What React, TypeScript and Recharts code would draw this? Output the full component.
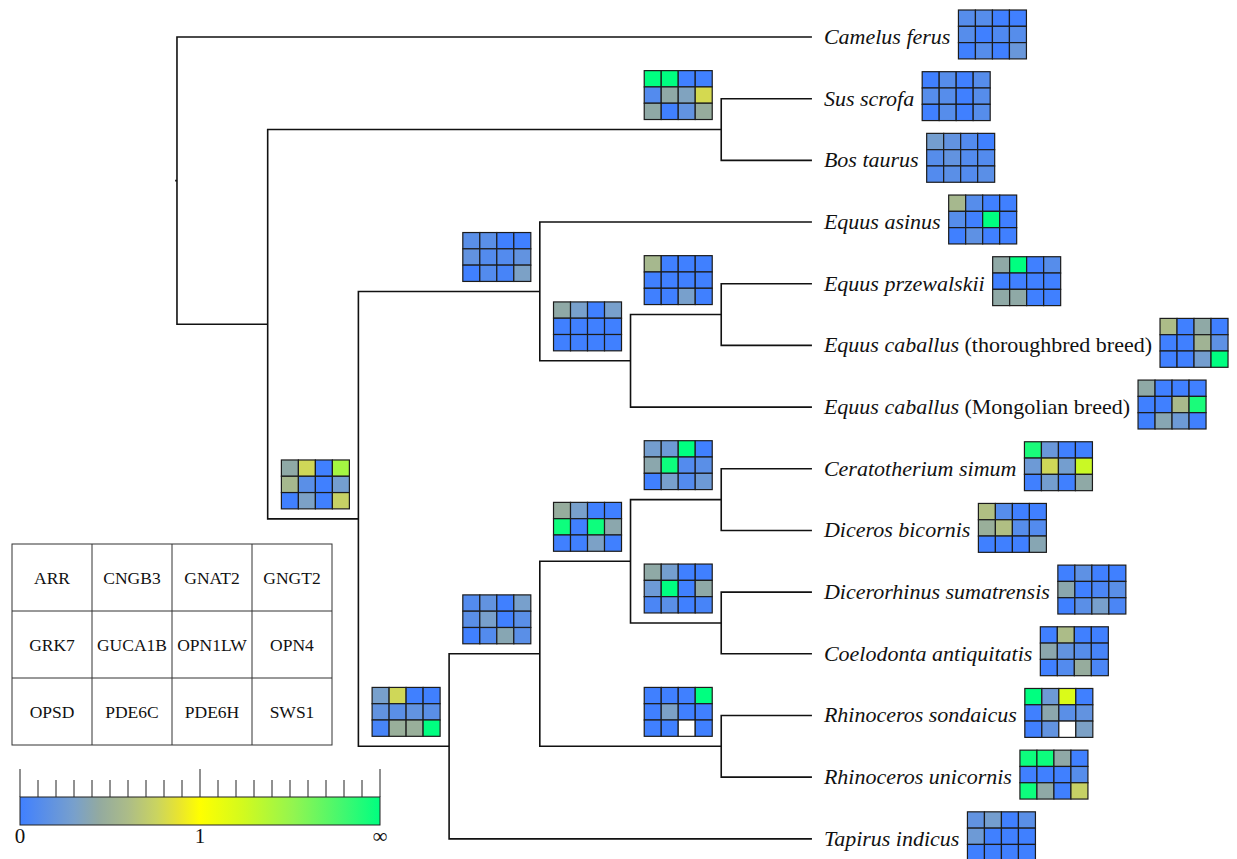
import React from 'react';
import { ScatterChart, Scatter, XAxis, YAxis, Customized } from 'recharts';

// gene order inside every 4x3 box (row by row)
const genes = ['ARR', 'CNGB3', 'GNAT2', 'GNGT2', 'GRK7', 'GUCA1B', 'OPN1LW', 'OPN4', 'OPSD', 'PDE6C', 'PDE6H', 'SWS1'];

const tipNames = [
  'Camelus ferus', 'Sus scrofa', 'Bos taurus', 'Equus asinus', 'Equus przewalskii',
  'Equus caballus', 'Equus caballus', 'Ceratotherium simum', 'Diceros bicornis',
  'Dicerorhinus sumatrensis', 'Coelodonta antiquitatis', 'Rhinoceros sondaicus',
  'Rhinoceros unicornis', 'Tapirus indicus',
];
const tipNotes = ['', '', '', '', '', '(thoroughbred breed)', '(Mongolian breed)', '', '', '', '', '', '', ''];

// omega on the colour scale: 0 -> 0, 0.5 -> 1, 1 -> infinity; null = no value
const tipOmega: (number | null)[][] = [
  [0.06, 0.06, 0, 0, 0.06, 0, 0.04, 0.06, 0, 0.06, 0, 0.11],
  [0, 0.06, 0, 0.06, 0.06, 0.06, 0, 0.06, 0, 0.06, 0, 0.06],
  [0.14, 0.09, 0.05, 0, 0.06, 0.09, 0.05, 0.05, 0.05, 0.07, 0.05, 0.07],
  [0.28, 0.06, 0, 0, 0.06, 0, 1, 0, 0, 0.08, 0, 0],
  [0.21, 1, 0, 0.06, 0, 0, 0, 0, 0.21, 0.21, 0, 0],
  [0.3, 0, 0.21, 0, 0, 0, 0.26, 0.08, 0, 0, 0.14, 1],
  [0.21, 0, 0, 0, 0, 0, 0.29, 0.96, 0, 0.19, 0.12, 0],
  [0.96, 0.11, 0, 0, 0.12, 0.39, 0.14, 0.64, 0, 0.14, 0, 0.21],
  [0.31, 0.06, 0, 0, 0.24, 0.31, 0.06, 0.05, 0, 0, 0, 0.19],
  [0, 0.08, 0, 0, 0.2, 0, 0.03, 0.07, 0, 0.07, 0.15, 0.03],
  [0, 0.3, 0, 0, 0.2, 0.09, 0.06, 0.02, 0, 0.05, 0.23, 0.03],
  [1, 0.12, 0.6, 0, 0, 0.2, 0.07, 0.09, 0, 0.09, null, 0.16],
  [0.98, 0.98, 0.21, 0, 0, 0, 0, 0.06, 0.98, 0.21, 0, 0.37],
  [0.09, 0.14, 0, 0.07, 0.12, 0, 0, 0, 0, 0, 0, 0],
];

// internal nodes: children are tip indexes or other node ids
const cladeIds = ['root', 'cetPeri', 'suBos', 'peri', 'equus', 'eqSub', 'prTh', 'rhTap', 'rhino', 'rh4', 'ceDi', 'dcCo', 'rhinoceros'];
const cladeKids: (number | string)[][] = [
  [0, 'cetPeri'], ['suBos', 'peri'], [1, 2], ['equus', 'rhTap'], [3, 'eqSub'], ['prTh', 6], [4, 5],
  ['rhino', 13], ['rh4', 'rhinoceros'], ['ceDi', 'dcCo'], [7, 8], [9, 10], [11, 12],
];
const cladeOmega: ((number | null)[] | null)[] = [
  null,
  null,
  [1, 1, 0, 0, 0.05, 0.21, 0.17, 0.4, 0.21, 0, 0.09, 0.23],
  [0.21, 0.39, 0, 0.72, 0.28, 0.07, 0, 0.14, 0, 0.16, 0, 0.37],
  [0.07, 0.07, 0, 0, 0.09, 0.05, 0.05, 0.09, 0, 0.05, 0.02, 0.16],
  [0.21, 0.15, 0, 0.15, 0, 0, 0, 0, 0, 0, 0, 0],
  [0.28, 0, 0, 0, 0, 0, 0, 0, 0, 0, 0.15, 0],
  [0.15, 0.39, 0, 0, 0.09, 0.07, 0.09, 0.07, 0.02, 0.24, 0.24, 1],
  [0.05, 0.09, 0, 0.15, 0.07, 0.15, 0, 0.07, 0, 0.05, 0.19, 0.07],
  [0.23, 0.15, 0, 0, 0.98, 0, 0.98, 0.2, 0, 0, 0.16, 0],
  [0.14, 0.12, 1, 0, 0.2, 0.98, 0.05, 0.07, 0, 0.15, 0.05, 0.12],
  [0.21, 0.14, 0, 0, 0.12, 1, 0, 0.21, 0.03, 0.07, 0, 0.02],
  [0, 0, 0, 1, 0, 0.16, 0, 0, 0, 0, null, 0],
];

const scaleStops = [0, 0.15, 0.22, 0.3, 0.38, 0.44, 0.5, 0.62, 0.76, 0.9, 1];
const scaleColors = ['#4080ff', '#78a0cc', '#93aaa0', '#acbc88', '#cad460', '#e8e430', '#ffff00', '#d2fa1e', '#92f550', '#40f870', '#00ff80'];
const scaleLabels = ['0', '1', '\u221e'];
const scaleTickCount = 21;

const SERIF = '"Liberation Serif", "Times New Roman", serif';
const CELL_W = 17;
const CELL_H = 16.3;

function hexToRgb(h: string) {
  const n = parseInt(h.slice(1), 16);
  return [(n >> 16) & 255, (n >> 8) & 255, n & 255];
}

function omegaColor(t: number) {
  for (let i = 1; i < scaleStops.length; i++) {
    if (t <= scaleStops[i]) {
      const f = (t - scaleStops[i - 1]) / (scaleStops[i] - scaleStops[i - 1]);
      const a = hexToRgb(scaleColors[i - 1]);
      const b = hexToRgb(scaleColors[i]);
      const c = a.map((v, k) => Math.round(v + (b[k] - v) * f));
      return `rgb(${c[0]},${c[1]},${c[2]})`;
    }
  }
  return scaleColors[scaleColors.length - 1];
}

let ctx: CanvasRenderingContext2D | null = null;
function textWidth(s: string, font: string) {
  if (!ctx) ctx = document.createElement('canvas').getContext('2d');
  if (!ctx) return s.length * 10;
  ctx.font = font;
  return ctx.measureText(s).width;
}

// layout: y = mean of children, x = (tree height - node height)
type Pos = { x: number; y: number; h: number };
const nodePos: Record<string, Pos> = {};
function place(k: number | string): Pos {
  if (typeof k === 'number') return { x: 0, y: k, h: 0 };
  const kids = cladeKids[cladeIds.indexOf(k)].map(place);
  const p = { x: 0, y: kids.reduce((s, c) => s + c.y, 0) / kids.length, h: Math.max(...kids.map((c) => c.h)) + 1 };
  nodePos[k] = p;
  return p;
}
const treeHeight = place('root').h;
const posOf = (k: number | string) => {
  if (typeof k === 'number') return { x: treeHeight, y: k };
  return { x: treeHeight - nodePos[k].h, y: nodePos[k].y };
};

const brackets = cladeIds.map((id, i) => {
  const me = posOf(id);
  const [a, b] = cladeKids[i].map(posOf);
  return [
    { x: a.x, y: a.y },
    { x: me.x, y: a.y },
    { x: me.x, y: b.y },
    { x: b.x, y: b.y },
  ];
});
const rootStub = [
  { x: posOf('root').x - 0.02, y: posOf('root').y },
  { x: posOf('root').x, y: posOf('root').y },
];

const tipData = tipNames.map((name, i) => ({ ...posOf(i), name, note: tipNotes[i], omega: tipOmega[i] }));
const cladeData = cladeIds
  .map((id, i) => ({ ...posOf(id), omega: cladeOmega[i] }))
  .filter((d) => d.omega);

function OmegaGrid({ x, y, values }: { x: number; y: number; values: (number | null)[] }) {
  return (
    <g>
      {values.map((v, i) => (
        <rect
          key={i}
          x={x + (i % 4) * CELL_W}
          y={y + Math.floor(i / 4) * CELL_H}
          width={CELL_W}
          height={CELL_H}
          fill={v == null ? '#ffffff' : omegaColor(v)}
          stroke="#1c1c1c"
          strokeWidth={1.2}
        />
      ))}
    </g>
  );
}

const noDot = () => <g />;

function TipShape(props: any) {
  const { cx, cy, payload } = props;
  const w =
    textWidth(payload.name, `italic 22px ${SERIF}`) +
    (payload.note ? textWidth(' ' + payload.note, `22px ${SERIF}`) : 0);
  return (
    <g>
      <text x={cx + 12} y={cy + 7} fontSize={22} fontFamily={SERIF} fill="#111">
        <tspan fontStyle="italic">{payload.name}</tspan>
        {payload.note ? <tspan>{' ' + payload.note}</tspan> : null}
      </text>
      <OmegaGrid x={cx + 12 + w + 8} y={cy - 27} values={payload.omega} />
    </g>
  );
}

function CladeShape(props: any) {
  const { cx, cy, payload } = props;
  return <OmegaGrid x={cx - 9 - 4 * CELL_W} y={cy - 10 - 3 * CELL_H} values={payload.omega} />;
}

function GeneKey() {
  const x0 = 12, y0 = 544, cw = 80, rh = 67;
  return (
    <g>
      <rect x={x0} y={y0} width={cw * 4} height={rh * 3} fill="none" stroke="#333" strokeWidth={1} />
      {[1, 2, 3].map((c) => (
        <line key={'c' + c} x1={x0 + c * cw} x2={x0 + c * cw} y1={y0} y2={y0 + rh * 3} stroke="#333" strokeWidth={1} />
      ))}
      {[1, 2].map((r) => (
        <line key={'r' + r} x1={x0} x2={x0 + cw * 4} y1={y0 + r * rh} y2={y0 + r * rh} stroke="#333" strokeWidth={1} />
      ))}
      {genes.map((g, i) => (
        <text
          key={g}
          x={x0 + (i % 4) * cw + cw / 2}
          y={y0 + Math.floor(i / 4) * rh + rh / 2 + 6.5}
          textAnchor="middle"
          fontSize={17.5}
          fontFamily={SERIF}
          fill="#111"
        >
          {g}
        </text>
      ))}
    </g>
  );
}

function ColorKey() {
  const x0 = 20, x1 = 380, top = 797, h = 28;
  const step = (x1 - x0) / (scaleTickCount - 1);
  return (
    <g>
      <defs>
        <linearGradient id="omegaGrad" x1="0" x2="1" y1="0" y2="0">
          {scaleStops.map((s, i) => (
            <stop key={i} offset={s} stopColor={scaleColors[i]} />
          ))}
        </linearGradient>
      </defs>
      {Array.from({ length: scaleTickCount }, (_, i) => {
        const major = i % 10 === 0;
        return (
          <line key={i} x1={x0 + i * step} x2={x0 + i * step} y1={major ? 769 : 780} y2={top} stroke="#222" strokeWidth={1} />
        );
      })}
      <rect x={x0} y={top} width={x1 - x0} height={h} fill="url(#omegaGrad)" stroke="#222" strokeWidth={1} />
      {scaleLabels.map((l, i) => (
        <text key={l} x={x0 + (i * (x1 - x0)) / 2} y={843} textAnchor="middle" fontSize={21} fontFamily={SERIF} fill="#111">
          {l}
        </text>
      ))}
    </g>
  );
}

const lineStyle = { stroke: '#111', strokeWidth: 1.6 };

export default function App() {
  return (
    <div style={{ width: 1237, height: 859, background: '#fff' }}>
      <style>{'body{margin:0}'}</style>
      <ScatterChart width={1237} height={859} margin={{ top: 0, right: 0, bottom: 0, left: 0 }}>
        <XAxis type="number" dataKey="x" domain={[-1.951, 11.686]} allowDataOverflow hide />
        <YAxis type="number" dataKey="y" domain={[-0.6, 13.327]} allowDataOverflow reversed hide />
        {brackets.map((pts, i) => (
          <Scatter key={cladeIds[i]} data={pts} fill="#111" line={lineStyle} shape={noDot} isAnimationActive={false} />
        ))}
        <Scatter data={rootStub} fill="#111" line={lineStyle} shape={noDot} isAnimationActive={false} />
        <Scatter data={cladeData} fill="#111" shape={CladeShape} isAnimationActive={false} />
        <Scatter data={tipData} fill="#111" shape={TipShape} isAnimationActive={false} />
        <Customized component={GeneKey} />
        <Customized component={ColorKey} />
      </ScatterChart>
    </div>
  );
}
